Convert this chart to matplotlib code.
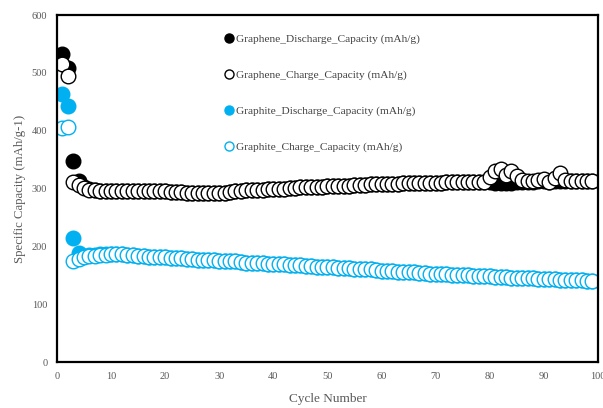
import matplotlib.pyplot as plt

cycles = list(range(1, 100))

graphene_charge = [
    515, 494, 311, 306, 301, 298, 297, 296, 296, 295,
    295, 295, 295, 295, 295, 295, 295, 295, 295, 295,
    294, 294, 294, 293, 293, 293, 292, 292, 292, 292,
    293, 294, 295, 296, 297, 297, 298, 298, 299, 299,
    300, 300, 301, 301, 302, 302, 303, 303, 303, 304,
    304, 305, 305, 305, 306, 306, 306, 307, 307, 307,
    308, 308, 308, 309, 309, 309, 309, 310, 310, 310,
    310, 311, 311, 311, 311, 311, 312, 312, 312, 320,
    331, 334, 324, 330, 321, 314, 313, 313, 314, 316,
    312, 318, 326, 315, 313, 313, 313, 313, 313,
]
graphene_discharge = [
    533, 508, 348, 313, 303, 299, 297, 296, 296, 295,
    295, 295, 295, 295, 295, 295, 295, 295, 295, 295,
    294, 294, 294, 293, 293, 293, 292, 292, 292, 292,
    293, 294, 295, 296, 297, 297, 298, 298, 299, 299,
    300, 300, 301, 301, 302, 302, 303, 303, 303, 304,
    304, 305, 305, 305, 306, 306, 306, 307, 307, 307,
    308, 308, 308, 309, 309, 309, 309, 310, 310, 310,
    310, 311, 311, 311, 311, 311, 312, 312, 312, 312,
    309, 309, 310, 310, 311, 312, 312, 312, 313, 313,
    312, 313, 313, 313, 313, 313, 313, 313, 313,
]
graphite_charge = [
    405, 406, 175, 178, 181, 183, 184, 185, 185, 186,
    186, 186, 185, 185, 184, 183, 182, 182, 181, 181,
    180, 180, 179, 178, 178, 177, 177, 176, 176, 175,
    175, 174, 174, 173, 172, 172, 171, 171, 170, 170,
    169, 169, 168, 168, 167, 166, 166, 165, 165, 164,
    164, 163, 163, 162, 161, 161, 160, 160, 159, 158,
    158, 157, 156, 156, 155, 155, 154, 154, 153, 153,
    152, 152, 151, 151, 150, 150, 149, 149, 148, 148,
    147, 147, 147, 146, 146, 145, 145, 145, 144, 144,
    143, 143, 142, 142, 142, 141, 141, 140, 140,
]
graphite_discharge = [
    463, 443, 215, 188, 184, 185, 185, 186, 186, 186,
    186, 186, 185, 185, 184, 183, 182, 182, 181, 181,
    180, 180, 179, 178, 178, 177, 177, 176, 176, 175,
    175, 174, 174, 173, 172, 172, 171, 171, 170, 170,
    169, 169, 168, 168, 167, 166, 166, 165, 165, 164,
    164, 163, 163, 162, 161, 161, 160, 160, 159, 158,
    158, 157, 156, 156, 155, 155, 154, 154, 153, 153,
    152, 152, 151, 151, 150, 150, 149, 149, 148, 148,
    147, 147, 147, 146, 146, 145, 145, 145, 144, 144,
    143, 143, 142, 142, 142, 141, 141, 140, 140,
]

labels = [
    "Graphene_Discharge_Capacity (mAh/g)",
    "Graphene_Charge_Capacity (mAh/g)",
    "Graphite_Discharge_Capacity (mAh/g)",
    "Graphite_Charge_Capacity (mAh/g)",
]

plt.rcParams['font.family'] = 'Liberation Serif'
blue = '#00B0F0'
grey = '#595959'

fig = plt.figure(figsize=(6.03, 4.08), dpi=100)
ax = fig.add_axes([0.0945, 0.1127, 0.897, 0.8505])

ms = 10.5
ax.plot(cycles, graphene_discharge, 'o', ms=ms, mfc='black', mec='black', mew=1, label=labels[0])
ax.plot(cycles, graphene_charge, 'o', ms=ms, mfc='white', mec='black', mew=1, label=labels[1])
ax.plot(cycles, graphite_discharge, 'o', ms=ms, mfc=blue, mec=blue, mew=1, label=labels[2])
ax.plot(cycles, graphite_charge, 'o', ms=ms, mfc='white', mec=blue, mew=1, label=labels[3])

ax.set_xlim(0, 100)
ax.set_ylim(0, 600)
ax.set_xticks(range(0, 101, 10))
ax.set_yticks(range(0, 601, 100))
ax.tick_params(length=0, labelsize=7.5, colors=grey, pad=7)
for s in ax.spines.values():
    s.set_linewidth(1.6)

ax.set_xlabel("Cycle Number", fontsize=9.5, color=grey, labelpad=9)
ax.set_ylabel("Specific Capacity (mAh/g-1)", fontsize=9.2, color=grey, labelpad=4)

leg = ax.legend(loc='upper left', bbox_to_anchor=(0.304, 0.958), frameon=False,
                fontsize=8.2, labelspacing=2.25, handlelength=0.6, handletextpad=0.3,
                markerscale=0.62, borderaxespad=0)
for t in leg.get_texts():
    t.set_color('#404040')

fig.savefig('out.png', dpi=100)
